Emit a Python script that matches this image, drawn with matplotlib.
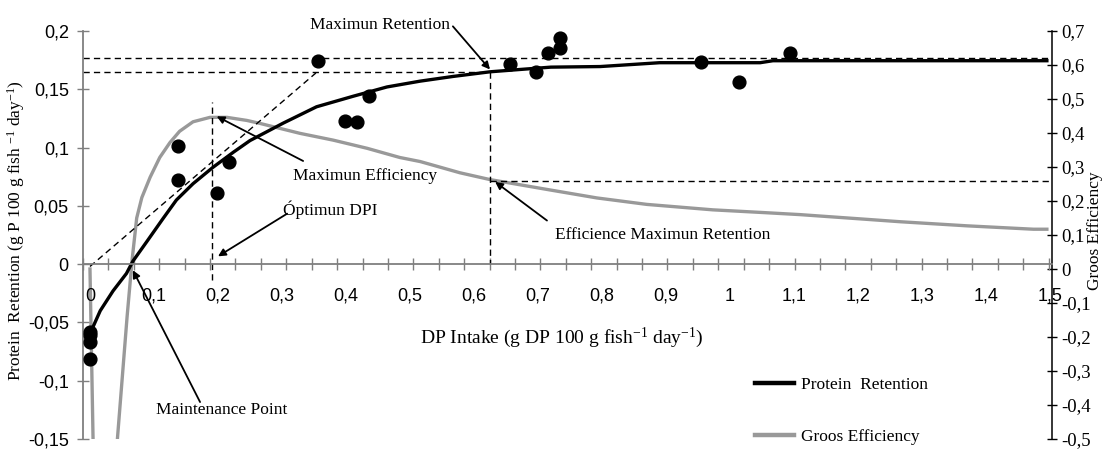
import numpy as np
import matplotlib
matplotlib.use("Agg")
import matplotlib.pyplot as plt
from matplotlib.lines import Line2D

# ---- data -------------------------------------------------------------
# Observed protein retention (g P 100 g fish-1 day-1) vs. DP intake
obs_intake = [0.0, 0.0, 0.0, 0.0, 0.138, 0.138, 0.198, 0.217, 0.357, 0.398,
              0.417, 0.436, 0.656, 0.697, 0.716, 0.734, 0.734, 0.955, 1.014, 1.094]
obs_retention = [-0.058, -0.061, -0.067, -0.081, 0.101, 0.072, 0.061, 0.088,
                 0.174, 0.123, 0.122, 0.144, 0.172, 0.165, 0.181, 0.185, 0.194,
                 0.173, 0.156, 0.181]

# Fitted protein retention curve (left axis)
ret_intake = [0.003, 0.016, 0.036, 0.057, 0.067, 0.089, 0.114, 0.135, 0.161,
              0.192, 0.224, 0.25, 0.302, 0.354, 0.411, 0.464, 0.516, 0.567,
              0.625, 0.672, 0.72, 0.797, 0.89, 1.047, 1.067, 1.2, 1.35, 1.495]
ret_value = [-0.056, -0.040, -0.023, -0.008, 0.0025, 0.0195, 0.039, 0.055,
             0.069, 0.083, 0.096, 0.106, 0.121, 0.135, 0.144, 0.152, 0.157,
             0.161, 0.165, 0.167, 0.169, 0.1695, 0.1728, 0.1728, 0.1745,
             0.1745, 0.1745, 0.1745]

# Gross efficiency curve (right axis)
eff_intake = [0.0, 0.0125, 0.042, 0.05, 0.058, 0.066, 0.073, 0.081, 0.094,
              0.109, 0.125, 0.14, 0.161, 0.1875, 0.214, 0.245, 0.266, 0.328,
              0.38, 0.433, 0.484, 0.516, 0.578, 0.625, 0.714, 0.792, 0.87,
              0.973, 1.052, 1.109, 1.214, 1.266, 1.37, 1.474, 1.495]
eff_value = [0.0, -1.3, -0.52, -0.33, -0.14, 0.03, 0.15, 0.21, 0.27, 0.328,
             0.372, 0.405, 0.433, 0.446, 0.446, 0.437, 0.428, 0.399, 0.379,
             0.355, 0.328, 0.316, 0.283, 0.263, 0.234, 0.209, 0.19, 0.174,
             0.166, 0.160, 0.146, 0.139, 0.127, 0.117, 0.117]

# Reference levels
max_ret_upper = 0.177
max_ret_lower = 0.1646
max_ret_intake = 0.625
eff_at_max_ret = 0.258
optimum_dpi = 0.19
optimum_top, optimum_bottom = 0.139, -0.014
slope_line_x = [0.0, 0.353]
slope_line_y = [-0.002, 0.164]

x_ticks = [0.0, 0.1, 0.2, 0.3, 0.4, 0.5, 0.6, 0.7, 0.8, 0.9, 1.0, 1.1, 1.2, 1.3, 1.4, 1.5]
x_labels = ["0", "0,1", "0,2", "0,3", "0,4", "0,5", "0,6", "0,7", "0,8", "0,9",
            "1", "1,1", "1,2", "1,3", "1,4", "1,5"]
left_ticks = [-0.15, -0.1, -0.05, 0.0, 0.05, 0.1, 0.15, 0.2]
left_labels = ["-0,15", "-0,1", "-0,05", "0", "0,05", "0,1", "0,15", "0,2"]
right_ticks = [-0.5, -0.4, -0.3, -0.2, -0.1, 0.0, 0.1, 0.2, 0.3, 0.4, 0.5, 0.6, 0.7]
right_labels = ["-0,5", "-0,4", "-0,3", "-0,2", "-0,1", "0", "0,1", "0,2", "0,3",
                "0,4", "0,5", "0,6", "0,7"]

# ---- style ------------------------------------------------------------
plt.rcParams["font.family"] = ["Liberation Serif", "DejaVu Serif"]
plt.rcParams["mathtext.fontset"] = "custom"
plt.rcParams["mathtext.rm"] = "Liberation Serif"
plt.rcParams["mathtext.it"] = "Liberation Serif:italic"
SANS = ["Liberation Sans", "DejaVu Sans"]
GRAY_AX = "#7f7f7f"
GRAY_LINE = "#999999"
DASH = (0, (4.5, 3.0))

fig = plt.figure(figsize=(11.04, 4.5), dpi=100)
ax = fig.add_axes([83 / 1104, 11 / 450, 969 / 1104, 408 / 450])
ax2 = ax.twinx()
ax.set_zorder(ax2.get_zorder() + 1)
ax.patch.set_visible(False)

x_lo, x_hi = -0.0109, 1.503
ax.set_xlim(x_lo, x_hi)
ax.set_ylim(-0.15, 0.2)
ax2.set_ylim(-0.5, 0.7)

# efficiency curve on right axis
ax2.plot(eff_intake, eff_value, color=GRAY_LINE, lw=2.4, solid_joinstyle="round")
ax2.plot([max_ret_intake, x_hi], [eff_at_max_ret, eff_at_max_ret],
         color="black", lw=1.0, ls=DASH)

# reference lines on left axis
ax.plot([x_lo, x_hi], [max_ret_upper, max_ret_upper], color="black", lw=1.0, ls=DASH)
ax.plot([x_lo, max_ret_intake], [max_ret_lower, max_ret_lower], color="black", lw=1.0, ls=DASH)
ax.plot([max_ret_intake, max_ret_intake], [max_ret_lower, 0.0], color="black", lw=1.0, ls=DASH)
ax.plot([optimum_dpi, optimum_dpi], [optimum_bottom, optimum_top], color="black", lw=1.0, ls=DASH)
ax.plot(slope_line_x, slope_line_y, color="black", lw=1.0, ls=DASH)

# retention curve and observations
ax.plot(ret_intake, ret_value, color="black", lw=2.4, solid_joinstyle="round")
ax.plot(obs_intake, obs_retention, "o", color="black", ms=9.2, zorder=5)

# ---- axes -------------------------------------------------------------
ax.spines["top"].set_visible(False)
ax.spines["right"].set_visible(False)
ax.spines["bottom"].set_position(("data", 0))
ax.spines["bottom"].set_color(GRAY_AX)
ax.spines["left"].set_color(GRAY_AX)
ax.spines["bottom"].set_linewidth(1.3)
ax.spines["left"].set_linewidth(1.3)
for s in ["top", "left", "bottom"]:
    ax2.spines[s].set_visible(False)
ax2.spines["right"].set_color("black")
ax2.spines["right"].set_linewidth(1.1)

ax.set_xticks(x_ticks)
ax.set_xticklabels(x_labels, fontfamily=SANS, fontsize=13)
ax.set_xticks(np.arange(x_lo, x_hi, 0.0397), minor=True)
ax.tick_params(axis="x", which="major", length=0, pad=17)
ax.tick_params(axis="x", which="minor", direction="inout", length=9,
               width=1.0, color=GRAY_AX)

ax.set_yticks(left_ticks)
ax.set_yticklabels(left_labels, fontfamily=SANS, fontsize=13)
ax.tick_params(axis="y", direction="inout", length=8.5, width=1.0,
               color=GRAY_AX, pad=6)

ax2.set_yticks(right_ticks)
ax2.set_yticklabels(right_labels, fontsize=13.5)
ax2.tick_params(axis="y", direction="inout", length=7.5, width=1.0,
                color="black", pad=3)

ax.set_xlabel("DP Intake (g DP 100 g fish$^{-1}$ day$^{-1}$)", fontsize=14,
              va="center")
ax.xaxis.set_label_coords(0.494, 0.248)
ax.set_ylabel("Protein  Retention (g P 100 g fish $^{-1}$ day$^{-1}$)",
              fontsize=12.5, va="center")
ax.yaxis.set_label_coords(-0.069, 0.51)
ax2.set_ylabel("Groos Efficiency", fontsize=12.5, va="center", rotation=90)
ax2.yaxis.set_label_coords(1.044, 0.51)

# ---- annotations ------------------------------------------------------
arrow = dict(arrowstyle="-|>", color="black", lw=1.3, mutation_scale=11,
             shrinkA=0, shrinkB=0)
notes = [
    ("Maximun Retention", (0.453, 0.2055), (0.567, 0.204), (0.625, 0.167)),
    ("Maximun Efficiency", (0.43, 0.0755), (0.333, 0.0885), (0.198, 0.1268)),
    ("Óptimun DPI", (0.375, 0.0466), (0.308, 0.0433), (0.200, 0.0067)),
    ("Maintenance Point", (0.206, -0.1253), (0.172, -0.1183), (0.067, -0.0052)),
    ("Efficience Maximun Retention", (0.894, 0.0253), (0.714, 0.0374), (0.633, 0.0706)),
]
for label, txt, tail, head in notes:
    ax.annotate("", xy=head, xytext=tail, arrowprops=arrow, annotation_clip=False)
    ax.text(txt[0], txt[1], label, fontsize=12.5, ha="center", va="center",
            clip_on=False)

# ---- legend -----------------------------------------------------------
handles = [Line2D([], [], color="black", lw=3.2),
           Line2D([], [], color=GRAY_LINE, lw=3.2)]
ax.legend(handles, ["Protein  Retention", "Groos Efficiency"],
          loc="upper left", bbox_to_anchor=(0.693, 0.152), frameon=False,
          fontsize=12.5, handlelength=2.3, handletextpad=0.4,
          labelspacing=2.05, borderpad=0, borderaxespad=0)

fig.savefig("out.png", dpi=100)
